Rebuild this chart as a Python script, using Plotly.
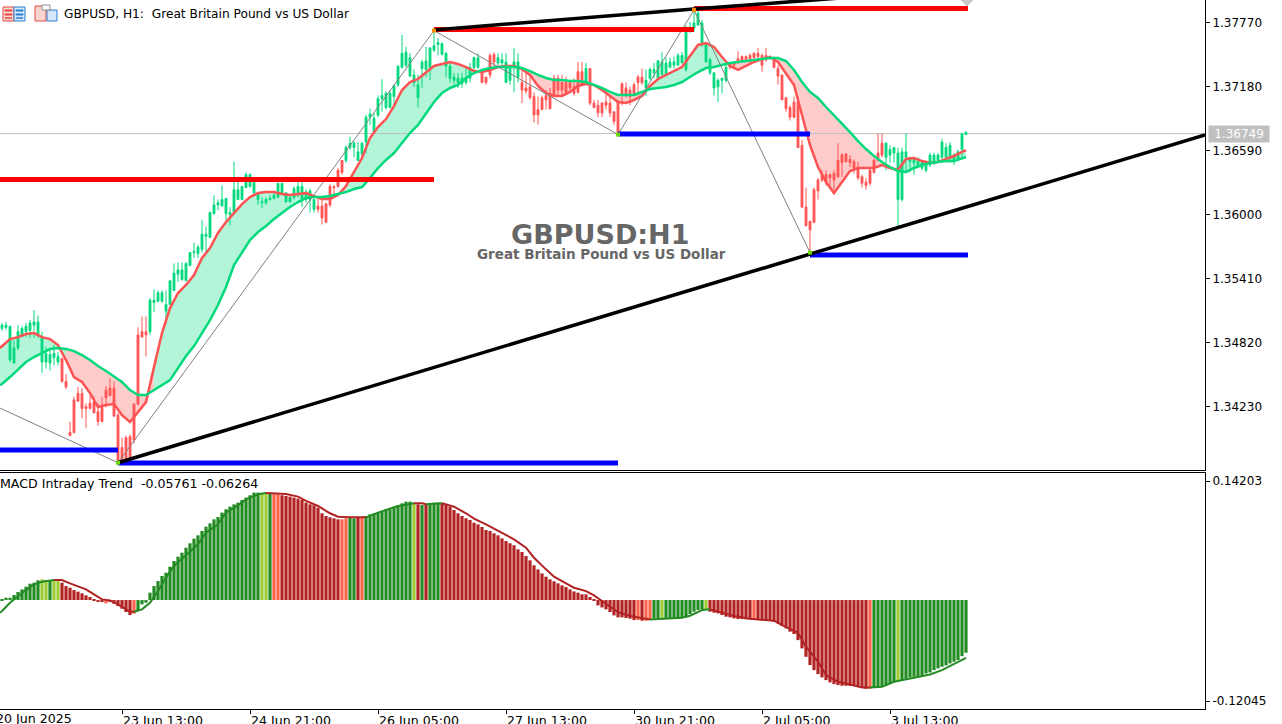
import plotly.graph_objects as go

# H1 candles, bar number on x
opens = [1.3495,1.3496,1.3466,1.3463,1.3477,1.3489,1.3492,1.3493,1.3498,1.3489,
1.3464,1.3464,1.3463,1.3468,1.3464,1.3467,1.3446,1.3399,1.3429,1.3435,
1.3435,1.3423,1.3426,1.3427,1.3418,1.3422,1.3438,1.3440,1.3440,1.3415,
1.3385,1.3394,1.3395,1.3425,1.3489,1.3492,1.3492,1.3492,1.3519,1.3520,
1.3520,1.3511,1.3517,1.3530,1.3545,1.3540,1.3539,1.3553,1.3565,1.3564,
1.3568,1.3580,1.3579,1.3601,1.3609,1.3608,1.3601,1.3600,1.3602,1.3614,
1.3614,1.3625,1.3626,1.3620,1.3614,1.3611,1.3611,1.3614,1.3615,1.3616,
1.3620,1.3612,1.3612,1.3616,1.3618,1.3614,1.3614,1.3614,1.3605,1.3608,
1.3608,1.3610,1.3626,1.3626,1.3641,1.3650,1.3650,1.3662,1.3662,1.3650,
1.3656,1.3667,1.3690,1.3676,1.3692,1.3707,1.3699,1.3699,1.3709,1.3720,
1.3736,1.3738,1.3728,1.3722,1.3708,1.3735,1.3734,1.3735,1.3752,1.3757,
1.3748,1.3737,1.3726,1.3724,1.3722,1.3721,1.3722,1.3726,1.3736,1.3736,
1.3732,1.3727,1.3747,1.3748,1.3740,1.3740,1.3722,1.3724,1.3736,1.3727,
1.3722,1.3717,1.3718,1.3709,1.3697,1.3708,1.3710,1.3712,1.3726,1.3726,
1.3722,1.3722,1.3722,1.3718,1.3732,1.3732,1.3722,1.3735,1.3703,1.3701,
1.3703,1.3704,1.3703,1.3695,1.3704,1.3721,1.3717,1.3715,1.3720,1.3727,
1.3727,1.3717,1.3726,1.3731,1.3726,1.3729,1.3729,1.3736,1.3738,1.3738,
1.3740,1.3734,1.3769,1.3772,1.3775,1.3758,1.3741,1.3731,1.3717,1.3718,
1.3724,1.3724,1.3740,1.3740,1.3744,1.3746,1.3746,1.3747,1.3749,1.3749,
1.3747,1.3747,1.3746,1.3745,1.3735,1.3729,1.3708,1.3699,1.3704,1.3704,
1.3664,1.3607,1.3594,1.3623,1.3632,1.3637,1.3637,1.3637,1.3638,1.3650,
1.3655,1.3656,1.3651,1.3649,1.3644,1.3635,1.3630,1.3641,1.3650,1.3657,
1.3666,1.3653,1.3655,1.3657,1.3614,1.3614,1.3653,1.3649,1.3648,1.3644,
1.3643,1.3641,1.3646,1.3648,1.3650,1.3653,1.3653,1.3653,1.3651,1.3652,
1.3660,1.3674]
highs = [1.3500,1.3501,1.3497,1.3484,1.3498,1.3497,1.3500,1.3503,1.3512,1.3507,
1.3492,1.3478,1.3477,1.3480,1.3473,1.3468,1.3453,1.3409,1.3432,1.3441,
1.3440,1.3426,1.3433,1.3432,1.3426,1.3432,1.3442,1.3449,1.3446,1.3417,
1.3394,1.3396,1.3397,1.3426,1.3496,1.3506,1.3506,1.3523,1.3531,1.3530,
1.3530,1.3530,1.3539,1.3555,1.3556,1.3556,1.3556,1.3565,1.3574,1.3572,
1.3595,1.3589,1.3603,1.3618,1.3614,1.3627,1.3615,1.3607,1.3649,1.3630,
1.3626,1.3639,1.3638,1.3632,1.3621,1.3616,1.3616,1.3618,1.3620,1.3629,
1.3629,1.3621,1.3617,1.3626,1.3630,1.3630,1.3623,1.3624,1.3614,1.3615,
1.3615,1.3611,1.3628,1.3627,1.3643,1.3650,1.3664,1.3672,1.3668,1.3667,
1.3667,1.3692,1.3698,1.3694,1.3710,1.3725,1.3714,1.3715,1.3720,1.3738,
1.3766,1.3755,1.3749,1.3734,1.3729,1.3743,1.3755,1.3754,1.3770,1.3763,
1.3759,1.3750,1.3741,1.3731,1.3731,1.3731,1.3736,1.3740,1.3746,1.3749,
1.3734,1.3727,1.3749,1.3750,1.3749,1.3749,1.3749,1.3738,1.3754,1.3749,
1.3735,1.3731,1.3727,1.3713,1.3709,1.3710,1.3715,1.3717,1.3729,1.3729,
1.3729,1.3727,1.3724,1.3726,1.3741,1.3741,1.3740,1.3735,1.3706,1.3706,
1.3704,1.3712,1.3709,1.3695,1.3706,1.3722,1.3722,1.3718,1.3722,1.3729,
1.3735,1.3734,1.3736,1.3740,1.3743,1.3750,1.3745,1.3745,1.3746,1.3749,
1.3750,1.3775,1.3778,1.3789,1.3789,1.3780,1.3758,1.3745,1.3731,1.3726,
1.3726,1.3740,1.3740,1.3741,1.3751,1.3747,1.3747,1.3749,1.3750,1.3754,
1.3749,1.3754,1.3747,1.3746,1.3738,1.3729,1.3708,1.3701,1.3709,1.3709,
1.3669,1.3625,1.3594,1.3625,1.3634,1.3641,1.3641,1.3638,1.3641,1.3666,
1.3657,1.3657,1.3655,1.3651,1.3649,1.3637,1.3634,1.3643,1.3652,1.3675,
1.3675,1.3667,1.3664,1.3662,1.3662,1.3662,1.3675,1.3653,1.3652,1.3653,
1.3650,1.3650,1.3657,1.3657,1.3657,1.3670,1.3666,1.3667,1.3657,1.3660,
1.3675,1.3677]
lows = [1.3493,1.3494,1.3464,1.3463,1.3475,1.3487,1.3487,1.3486,1.3486,1.3486,
1.3454,1.3458,1.3456,1.3461,1.3461,1.3445,1.3439,1.3396,1.3398,1.3427,
1.3412,1.3403,1.3421,1.3417,1.3405,1.3409,1.3422,1.3433,1.3414,1.3371,
1.3372,1.3374,1.3376,1.3389,1.3424,1.3487,1.3469,1.3489,1.3510,1.3519,
1.3519,1.3503,1.3517,1.3530,1.3538,1.3539,1.3539,1.3553,1.3560,1.3560,
1.3565,1.3565,1.3579,1.3600,1.3604,1.3608,1.3593,1.3590,1.3602,1.3614,
1.3614,1.3625,1.3625,1.3620,1.3609,1.3606,1.3609,1.3613,1.3614,1.3616,
1.3618,1.3611,1.3611,1.3614,1.3616,1.3607,1.3611,1.3602,1.3602,1.3602,
1.3591,1.3593,1.3607,1.3618,1.3625,1.3637,1.3648,1.3660,1.3653,1.3650,
1.3653,1.3657,1.3683,1.3676,1.3690,1.3695,1.3697,1.3698,1.3699,1.3718,
1.3735,1.3736,1.3727,1.3718,1.3699,1.3717,1.3727,1.3724,1.3750,1.3747,
1.3747,1.3727,1.3722,1.3720,1.3717,1.3717,1.3720,1.3722,1.3732,1.3735,
1.3722,1.3720,1.3726,1.3736,1.3738,1.3736,1.3722,1.3720,1.3713,1.3722,
1.3703,1.3712,1.3706,1.3685,1.3683,1.3697,1.3697,1.3697,1.3710,1.3709,
1.3710,1.3712,1.3715,1.3710,1.3712,1.3720,1.3722,1.3701,1.3698,1.3690,
1.3690,1.3697,1.3690,1.3683,1.3674,1.3701,1.3708,1.3701,1.3710,1.3710,
1.3720,1.3710,1.3724,1.3726,1.3724,1.3729,1.3728,1.3736,1.3735,1.3738,
1.3740,1.3732,1.3768,1.3769,1.3775,1.3755,1.3741,1.3729,1.3710,1.3704,
1.3712,1.3722,1.3734,1.3735,1.3740,1.3741,1.3741,1.3741,1.3743,1.3743,
1.3732,1.3741,1.3743,1.3735,1.3720,1.3706,1.3695,1.3687,1.3689,1.3662,
1.3606,1.3589,1.3565,1.3592,1.3614,1.3630,1.3627,1.3626,1.3623,1.3634,
1.3635,1.3648,1.3644,1.3638,1.3632,1.3625,1.3623,1.3627,1.3638,1.3650,
1.3653,1.3641,1.3648,1.3648,1.3588,1.3612,1.3638,1.3639,1.3637,1.3643,
1.3641,1.3639,1.3644,1.3646,1.3648,1.3649,1.3648,1.3648,1.3646,1.3650,
1.3653,1.3674]
closes = [1.3498,1.3498,1.3497,1.3477,1.3492,1.3495,1.3497,1.3500,1.3501,1.3501,
1.3487,1.3472,1.3471,1.3472,1.3469,1.3446,1.3441,1.3396,1.3399,1.3428,
1.3421,1.3421,1.3421,1.3417,1.3409,1.3409,1.3431,1.3433,1.3414,1.3372,
1.3372,1.3374,1.3376,1.3392,1.3425,1.3487,1.3489,1.3521,1.3521,1.3528,
1.3528,1.3517,1.3539,1.3546,1.3549,1.3549,1.3555,1.3565,1.3566,1.3570,
1.3582,1.3582,1.3602,1.3609,1.3611,1.3614,1.3615,1.3602,1.3623,1.3623,
1.3626,1.3637,1.3637,1.3630,1.3620,1.3612,1.3614,1.3615,1.3618,1.3629,
1.3629,1.3620,1.3616,1.3624,1.3626,1.3626,1.3621,1.3622,1.3614,1.3605,
1.3597,1.3593,1.3609,1.3625,1.3626,1.3639,1.3662,1.3666,1.3666,1.3658,
1.3666,1.3690,1.3693,1.3689,1.3707,1.3710,1.3712,1.3712,1.3719,1.3737,
1.3749,1.3750,1.3745,1.3729,1.3720,1.3741,1.3742,1.3754,1.3756,1.3759,
1.3758,1.3749,1.3737,1.3727,1.3726,1.3726,1.3726,1.3736,1.3745,1.3745,
1.3722,1.3722,1.3729,1.3741,1.3745,1.3743,1.3741,1.3736,1.3741,1.3741,
1.3715,1.3714,1.3708,1.3692,1.3692,1.3697,1.3706,1.3698,1.3710,1.3715,
1.3715,1.3713,1.3717,1.3712,1.3713,1.3720,1.3735,1.3703,1.3699,1.3694,
1.3694,1.3701,1.3694,1.3686,1.3676,1.3710,1.3710,1.3709,1.3712,1.3722,
1.3722,1.3724,1.3734,1.3734,1.3742,1.3741,1.3740,1.3741,1.3741,1.3747,
1.3747,1.3772,1.3772,1.3777,1.3786,1.3777,1.3757,1.3743,1.3731,1.3724,
1.3726,1.3736,1.3736,1.3738,1.3740,1.3742,1.3743,1.3744,1.3745,1.3746,
1.3738,1.3743,1.3745,1.3736,1.3728,1.3706,1.3698,1.3690,1.3690,1.3662,
1.3607,1.3590,1.3586,1.3593,1.3622,1.3632,1.3630,1.3634,1.3632,1.3635,
1.3648,1.3649,1.3648,1.3643,1.3634,1.3629,1.3627,1.3629,1.3639,1.3650,
1.3655,1.3666,1.3660,1.3662,1.3657,1.3658,1.3658,1.3653,1.3652,1.3649,
1.3648,1.3648,1.3655,1.3655,1.3655,1.3667,1.3662,1.3664,1.3655,1.3658,
1.3675,1.3676]
bars = list(range(len(opens)))

# the two moving averages, read every second bar
ma_bars = [-0.5] + list(range(0, 242, 2)) + [241]
ma_fast = [1.34769,1.34787,1.34852,1.34870,1.34898,1.34907,1.34870,1.34852,1.34797,1.34658,1.34501,
1.34455,1.34353,1.34224,1.34243,1.34252,1.34150,1.34086,1.34178,1.34270,1.34593,
1.34907,1.35138,1.35277,1.35351,1.35443,1.35600,1.35692,1.35831,1.35932,1.36015,
1.36098,1.36163,1.36200,1.36209,1.36209,1.36191,1.36182,1.36191,1.36200,1.36172,
1.36145,1.36145,1.36182,1.36265,1.36394,1.36523,1.36708,1.36809,1.36883,1.37003,
1.37151,1.37225,1.37253,1.37317,1.37373,1.37391,1.37410,1.37391,1.37363,1.37326,
1.37317,1.37336,1.37363,1.37373,1.37373,1.37345,1.37290,1.37188,1.37123,1.37096,
1.37096,1.37133,1.37188,1.37206,1.37197,1.37151,1.37096,1.37040,1.37031,1.37059,
1.37096,1.37188,1.37253,1.37290,1.37326,1.37363,1.37465,1.37567,1.37585,1.37548,
1.37456,1.37373,1.37336,1.37373,1.37410,1.37437,1.37456,1.37410,1.37299,1.37197,
1.36920,1.36643,1.36440,1.36302,1.36200,1.36302,1.36403,1.36431,1.36431,1.36431,
1.36459,1.36431,1.36412,1.36514,1.36523,1.36495,1.36477,1.36486,1.36514,1.36542,
1.36579,1.36597]
ma_slow = [1.34427,1.34437,1.34501,1.34575,1.34640,1.34686,1.34723,1.34760,1.34769,1.34760,1.34741,
1.34704,1.34658,1.34603,1.34557,1.34510,1.34455,1.34381,1.34335,1.34335,1.34381,
1.34427,1.34473,1.34584,1.34695,1.34787,1.34907,1.35027,1.35166,1.35332,1.35535,
1.35655,1.35766,1.35840,1.35895,1.35960,1.36015,1.36071,1.36117,1.36154,1.36163,
1.36163,1.36172,1.36191,1.36209,1.36237,1.36255,1.36339,1.36431,1.36505,1.36569,
1.36662,1.36754,1.36828,1.36939,1.37040,1.37123,1.37170,1.37197,1.37262,1.37308,
1.37336,1.37354,1.37363,1.37363,1.37363,1.37354,1.37326,1.37290,1.37262,1.37243,
1.37243,1.37234,1.37234,1.37225,1.37197,1.37170,1.37133,1.37105,1.37105,1.37105,
1.37133,1.37160,1.37170,1.37179,1.37197,1.37225,1.37271,1.37317,1.37354,1.37363,
1.37382,1.37400,1.37410,1.37419,1.37428,1.37437,1.37446,1.37446,1.37419,1.37336,
1.37225,1.37133,1.37077,1.36994,1.36920,1.36837,1.36763,1.36680,1.36606,1.36542,
1.36486,1.36440,1.36403,1.36394,1.36431,1.36459,1.36477,1.36486,1.36495,1.36495,
1.36523,1.36532]

# zigzag swings and the levels hanging off them
zigzag_bars = [-0.5, 29, 108, 154, 173, 202]
zigzag_prices = [1.34215, 1.3371, 1.3770, 1.3674, 1.3789, 1.3565]
red_levels = [(-0.5, 108, 1.36325), (108, 173, 1.37710), (173, 241.5, 1.37904)]
blue_levels = [(-0.5, 29, 1.33827), (29, 154, 1.33707), (154, 202, 1.36745), (202, 241.5, 1.35628)]
trend_low = ([29, 300.75], [1.3371, 1.36736])
trend_high = ([108, 173, 213], [1.37705, 1.37899, 1.38010])
last_price = 1.36749

price_ticks = [1.37770, 1.37180, 1.36590, 1.36000, 1.35410, 1.34820, 1.34230]
time_ticks = [30, 62, 94, 126, 158, 190, 222]
time_labels = ["23 Jun 13:00", "24 Jun 21:00", "26 Jun 05:00", "27 Jun 13:00",
               "30 Jun 21:00", "2 Jul 05:00", "3 Jul 13:00"]

# MACD panel
macd = [0.0012,0.0028,0.0028,0.0060,0.0096,0.0127,0.0159,0.0195,0.0207,0.0235,
0.0247,0.0239,0.0227,0.0227,0.0227,0.0207,0.0167,0.0147,0.0119,0.0100,
0.0080,0.0056,0.0036,0.0008,-0.0024,-0.0024,-0.0040,-0.0024,-0.0044,-0.0072,
-0.0103,-0.0143,-0.0179,-0.0163,-0.0119,-0.0052,-0.0032,0.0088,0.0167,0.0227,
0.0287,0.0326,0.0398,0.0466,0.0517,0.0565,0.0625,0.0677,0.0732,0.0772,
0.0824,0.0876,0.0915,0.0963,0.0991,0.1043,0.1083,0.1114,0.1142,0.1162,
0.1194,0.1222,0.1250,0.1282,0.1282,0.1274,0.1274,0.1274,0.1262,0.1262,
0.1250,0.1242,0.1234,0.1222,0.1210,0.1194,0.1162,0.1142,0.1130,0.1102,
0.1035,0.1003,0.0987,0.0975,0.0963,0.0963,0.0975,0.0983,0.0975,0.0983,
0.0983,0.1003,0.1023,0.1035,0.1043,0.1063,0.1083,0.1083,0.1102,0.1130,
0.1154,0.1174,0.1174,0.1154,0.1142,0.1134,0.1134,0.1154,0.1162,0.1162,
0.1154,0.1134,0.1114,0.1075,0.1035,0.1003,0.0975,0.0955,0.0923,0.0903,
0.0872,0.0836,0.0824,0.0796,0.0772,0.0736,0.0704,0.0677,0.0653,0.0605,
0.0573,0.0525,0.0474,0.0414,0.0366,0.0318,0.0279,0.0247,0.0223,0.0199,
0.0175,0.0155,0.0127,0.0103,0.0088,0.0068,0.0068,0.0036,0.0008,-0.0064,
-0.0088,-0.0111,-0.0143,-0.0183,-0.0207,-0.0207,-0.0215,-0.0223,-0.0239,-0.0239,
-0.0247,-0.0247,-0.0231,-0.0219,-0.0219,-0.0219,-0.0219,-0.0219,-0.0219,-0.0219,
-0.0207,-0.0191,-0.0167,-0.0139,-0.0119,-0.0107,-0.0107,-0.0139,-0.0151,-0.0159,
-0.0179,-0.0199,-0.0207,-0.0219,-0.0227,-0.0227,-0.0231,-0.0231,-0.0219,-0.0231,
-0.0239,-0.0247,-0.0247,-0.0259,-0.0279,-0.0310,-0.0338,-0.0378,-0.0406,-0.0478,
-0.0577,-0.0677,-0.0776,-0.0836,-0.0884,-0.0923,-0.0955,-0.0983,-0.1003,-0.1015,
-0.1023,-0.1023,-0.1023,-0.1023,-0.1035,-0.1047,-0.1059,-0.1059,-0.1043,-0.1035,
-0.1035,-0.1015,-0.0995,-0.0979,-0.0963,-0.0955,-0.0939,-0.0923,-0.0915,-0.0907,
-0.0899,-0.0876,-0.0864,-0.0836,-0.0816,-0.0796,-0.0780,-0.0756,-0.0736,-0.0716,
-0.0669,-0.0629]
macd_runs = [("g",10),("l",2),("g",1),("l",2),("r",11),("o",1),("r",6),("o",1),("g",31),("l",2),
             ("g",1),("o",2),("r",15),("o",2),("g",2),("r",1),("o",1),("g",12),("l",1),("r",1),
             ("g",1),("r",1),("g",3),("r",49),("o",1),("r",1),("o",2),("g",2),("l",1),("g",10),
             ("l",1),("r",11),("o",1),("r",28),("o",1),("g",6),("l",1),("g",17)]
signal_bars = [-0.5,0,2,4,6,8,10,13,15,17,19,21,23,25,27,29,31,32,33,35,37,39,41,43,46,49,51,54,56,59,61,
               64,66,69,71,74,76,79,82,84,87,91,94,99,103,105,106,110,113,116,118,121,123,126,128,131,
               133,136,138,141,143,146,148,150,152,154,157,160,162,167,170,172,175,177,180,183,187,193,
               195,199,201,204,206,209,212,215,217,220,223,226,232,235,238,241]
signal = [-0.0151,-0.0131,-0.0032,0.0048,0.0119,0.0187,0.0219,0.0239,0.0239,0.0199,0.0167,0.0127,0.0068,0.0008,
          -0.0004,-0.0052,-0.0111,-0.0139,-0.0139,-0.0111,-0.0032,0.0107,0.0267,0.0406,0.0533,0.0665,
          0.0804,0.0903,0.1043,0.1130,0.1202,0.1262,0.1278,0.1274,0.1266,0.1234,0.1182,0.1122,0.1035,
          0.0995,0.0987,0.0987,0.1043,0.1122,0.1154,0.1154,0.1142,0.1154,0.1114,0.1035,0.0971,0.0903,
          0.0852,0.0784,0.0724,0.0625,0.0505,0.0366,0.0279,0.0199,0.0147,0.0107,0.0056,-0.0012,-0.0080,
          -0.0143,-0.0191,-0.0219,-0.0231,-0.0219,-0.0211,-0.0187,-0.0119,-0.0111,-0.0151,-0.0191,-0.0223,
          -0.0247,-0.0299,-0.0390,-0.0557,-0.0736,-0.0895,-0.0975,-0.1007,-0.1043,-0.1043,-0.1035,-0.0975,
          -0.0947,-0.0888,-0.0836,-0.0764,-0.0689]

CANDLE_UP = "#00d97c"
CANDLE_DN = "#ff5252"
HIST_COLORS = {"g": "#228b22", "l": "#9acd32", "r": "#b22222", "o": "#ff6347"}
W, H = 1282, 724

fig = go.Figure()

# cloud between the averages sits on the base y axis so the candles draw over it
runs = []
start = 0
for i in range(1, len(ma_bars)):
    if (ma_fast[i] >= ma_slow[i]) != (ma_fast[start] >= ma_slow[start]):
        runs.append((start, i))
        start = i
runs.append((start, len(ma_bars) - 1))
for a, b in runs:
    xs = ma_bars[a:b + 1]
    up = ma_fast[a] >= ma_slow[a]
    fig.add_trace(go.Scatter(x=xs + xs[::-1], y=ma_fast[a:b + 1] + ma_slow[a:b + 1][::-1],
                             mode="lines", line=dict(width=0), fill="toself",
                             fillcolor="#b3f5d8" if up else "#ffcccc", hoverinfo="skip"))
fig.add_trace(go.Scatter(x=[-0.5, 300.75], y=[last_price, last_price], mode="lines",
                         line=dict(color="#c0c0c0", width=1), hoverinfo="skip"))

fig.add_trace(go.Candlestick(x=bars, open=opens, high=highs, low=lows, close=closes, yaxis="y3",
                             increasing=dict(line=dict(color=CANDLE_UP, width=1), fillcolor=CANDLE_UP),
                             decreasing=dict(line=dict(color=CANDLE_DN, width=1), fillcolor=CANDLE_DN),
                             whiskerwidth=0))
fig.add_trace(go.Scatter(x=ma_bars, y=ma_fast, yaxis="y3", mode="lines", line=dict(color=CANDLE_DN, width=2.5)))
fig.add_trace(go.Scatter(x=ma_bars, y=ma_slow, yaxis="y3", mode="lines", line=dict(color=CANDLE_UP, width=2.5)))

fig.add_trace(go.Scatter(x=zigzag_bars, y=zigzag_prices, yaxis="y3", mode="lines",
                         line=dict(color="#808080", width=1)))
for x0, x1, level in red_levels:
    fig.add_trace(go.Scatter(x=[x0, x1], y=[level, level], yaxis="y3", mode="lines",
                             line=dict(color="#ff0000", width=5)))
for x0, x1, level in blue_levels:
    fig.add_trace(go.Scatter(x=[x0, x1], y=[level, level], yaxis="y3", mode="lines",
                             line=dict(color="#0000ff", width=5)))
for tx, ty in (trend_low, trend_high):
    fig.add_trace(go.Scatter(x=tx, y=ty, yaxis="y3", mode="lines", line=dict(color="black", width=3.5)))
fig.add_trace(go.Scatter(x=zigzag_bars[1:], y=zigzag_prices[1:], yaxis="y3", mode="markers",
                         marker=dict(symbol="square", size=4,
                                     color=["#66dd00", "#ff8c00", "#66dd00", "#ff8c00", "#66dd00"])))
fig.add_trace(go.Scatter(x=[241.25], y=[1.38000], yaxis="y3", mode="markers",
                         marker=dict(symbol="diamond", size=13, color="#c8c8c8")))

# MACD histogram and signal
states = [s for s, n in macd_runs for _ in range(n)]
fig.add_trace(go.Bar(x=bars, y=macd, xaxis="x2", yaxis="y2", width=0.8,
                     marker=dict(color=[HIST_COLORS[s] for s in states], line=dict(width=0))))
start = 0
for i in range(1, len(signal_bars)):
    end_run = i == len(signal_bars) - 1 or (signal[i + 1] > signal[i]) != (signal[i] > signal[i - 1])
    if end_run:
        rising = signal[i] > signal[i - 1]
        fig.add_trace(go.Scatter(x=signal_bars[start:i + 1], y=signal[start:i + 1], xaxis="x2", yaxis="y2",
                                 mode="lines", line=dict(color="#228b22" if rising else "#b22222", width=2)))
        start = i


def px_rect(x0, y0, x1, y1, line, fill):
    return dict(type="rect", xref="paper", yref="paper", x0=x0 / W, x1=x1 / W, y0=1 - y0 / H, y1=1 - y1 / H,
                line=dict(color=line, width=1), fillcolor=fill, layer="above")


# toolbar icons top left
icons = [px_rect(3, 7, 14, 21, "#e8463c", "#fbd5d0"), px_rect(14, 7, 25, 21, "#2a7fd0", "#d5e8fa"),
         px_rect(5, 10, 12, 11, "#e8463c", "#e8463c"), px_rect(5, 14, 12, 15, "#e8463c", "#e8463c"),
         px_rect(5, 18, 12, 18, "#e8463c", "#e8463c"), px_rect(16, 10, 23, 11, "#2a7fd0", "#2a7fd0"),
         px_rect(16, 14, 23, 15, "#2a7fd0", "#2a7fd0"), px_rect(16, 18, 23, 18, "#2a7fd0", "#2a7fd0"),
         px_rect(35, 6, 46, 21, "#e8463c", "#fbd5d0"), px_rect(47, 10, 57, 21, "#2a7fd0", "#d5e8fa"),
         px_rect(42, 5, 50, 10, "#909090", "#ffffff")]

FONT = "DejaVu Sans"
annotations = [
    dict(x=62 / W, y=1 - 14 / H, text="GBPUSD, H1:  Great Britain Pound vs US Dollar", font=dict(size=12.2)),
    dict(x=-2 / W, y=1 - 484 / H, text="MACD Intraday Trend  -0.05761 -0.06264", font=dict(size=12.6)),
    dict(x=-6 / W, y=1 - 718 / H, text="20 Jun 2025", font=dict(size=12.6)),
]
for a in annotations:
    a.update(xref="paper", yref="paper", xanchor="left", yanchor="middle", showarrow=False)
annotations += [
    dict(x=600 / W, y=1 - 235 / H, xref="paper", yref="paper", yanchor="middle", showarrow=False,
         text="<b>GBPUSD:H1</b>", font=dict(size=27, color="#666666")),
    dict(x=601 / W, y=1 - 254 / H, xref="paper", yref="paper", yanchor="middle", showarrow=False,
         text="<b>Great Britain Pound vs US Dollar</b>", font=dict(size=13.5, color="#666666")),
    dict(x=1208 / W, y=last_price, xref="paper", yref="y", xanchor="left", yanchor="middle", showarrow=False,
         text="1.36749", bgcolor="#c0c0c0", width=60, height=16, borderpad=0, font=dict(size=12, color="white")),
]

main_range = [1.33643, 1.37982]
y_axis = dict(range=main_range, showgrid=False, zeroline=False)
fig.update_layout(
    width=W, height=H, margin=dict(l=0, r=0, t=0, b=0, autoexpand=False), autosize=False,
    paper_bgcolor="white", plot_bgcolor="white", showlegend=False,
    font=dict(family=FONT, size=12, color="black"), boxgap=0.35, hovermode=False,
    xaxis=dict(domain=[0, 1205 / W], range=[-0.5, 300.75], anchor="y", showgrid=False, zeroline=False,
               rangeslider=dict(visible=False), showticklabels=False, ticks="", showline=True,
               linecolor="black", linewidth=1),
    xaxis2=dict(domain=[0, 1205 / W], range=[-0.5, 300.75], anchor="y2", showgrid=False, zeroline=False,
                tickvals=time_ticks, ticktext=time_labels, ticks="outside", ticklen=4, tickcolor="black",
                tickfont=dict(size=12.6), ticklabelposition="outside right", showline=True, mirror=True,
                linecolor="black", linewidth=1),
    yaxis=dict(domain=[1 - 470 / H, 1], side="right", anchor="x", tickvals=price_ticks,
               ticktext=[f"{p:.5f}" for p in price_ticks], ticks="outside", ticklen=4, tickcolor="black",
               showline=True, linecolor="black", linewidth=1, **y_axis),
    yaxis2=dict(domain=[1 - 709 / H, 1 - 473 / H], side="right", anchor="x2", range=[-0.1300, 0.15157],
                tickvals=[0.14203, -0.12045], ticktext=["0.14203", "-0.12045"], ticks="outside", ticklen=4,
                tickcolor="black", showgrid=False, zeroline=False, showline=True, linecolor="black", linewidth=1),
    yaxis3=dict(overlaying="y", side="right", visible=False, **y_axis),
    shapes=icons, annotations=annotations,
)

fig.write_html("out.html", config={"displayModeBar": False},
               post_script="document.body.style.margin='0';document.body.style.overflow='hidden';")
